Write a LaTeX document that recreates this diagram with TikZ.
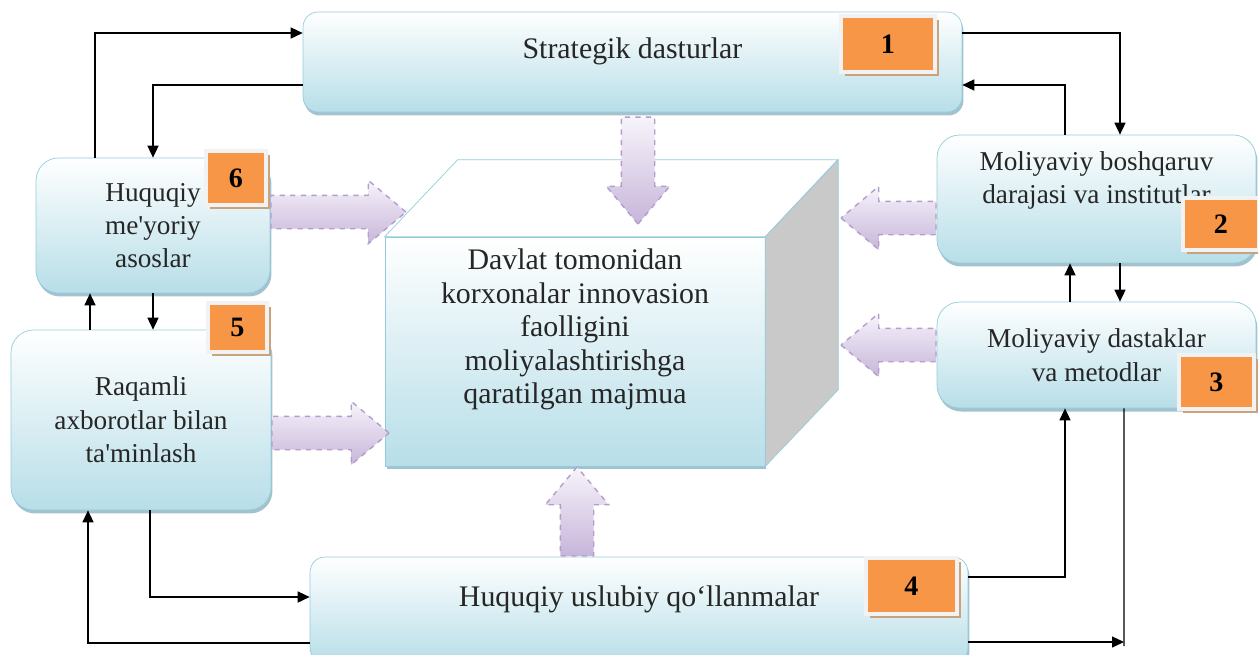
\documentclass[tikz,border=0pt]{standalone}
\usepackage{fontspec}
\setmainfont{Liberation Serif}
\usepackage{xcolor}
\usetikzlibrary{shapes.arrows,arrows.meta,shadows}

\definecolor{boxblue}{HTML}{B7DEE8}
\definecolor{boxedge}{HTML}{93CDDD}
\definecolor{boxshadow}{HTML}{8DB3C0}
\definecolor{badgeorange}{HTML}{F79646}
\definecolor{badgeframe}{HTML}{F2F2F2}
\definecolor{badgeshadow}{HTML}{C9A27E}
\definecolor{flowtop}{HTML}{F7F4FA}
\definecolor{flowbottom}{HTML}{C7B5DA}
\definecolor{flowedge}{HTML}{B39DCC}
\definecolor{cubegray}{HTML}{C9C9C9}

\begin{document}
\begin{tikzpicture}[
    x=0.02cm, y=-0.02cm,
    box/.style={rectangle, draw=boxedge, rounded corners=0.45cm, top color=white, bottom color=boxblue, align=center, text=black!85, font=\fontsize{15.5}{19}\selectfont, drop shadow={shadow xshift=0.03cm, shadow yshift=-0.07cm, fill=boxshadow, opacity=0.8}},
    wide/.style={box, rounded corners=0.3cm, font=\fontsize{17}{19}\selectfont},
    badge/.style={rectangle, fill=badgeorange, draw=badgeframe, line width=2.5pt, font=\fontsize{16}{19}\selectfont\bfseries, drop shadow={shadow xshift=0.08cm, shadow yshift=-0.08cm, fill=badgeshadow, opacity=1}},
    flow/.style={single arrow, draw=flowedge, dashed, thick, top color=flowtop, bottom color=flowbottom, inner sep=0.32cm, single arrow head extend=0.3cm, single arrow tip angle=80, anchor=tail},
    face/.style={draw=boxedge},
    arrow/.style={->, >={Triangle[length=0.24cm, width=0.22cm]}, thick},
    line/.style={thick}
]
\useasboundingbox (0,0) rectangle (1258,654);
\clip (0,0) rectangle (1258,654);

    \node[box, rounded corners=0pt, minimum width=7.6cm, minimum height=4.58cm, font=\fontsize{17}{19}\selectfont] (core) at (575,351.5) {Davlat tomonidan\\korxonalar innovasion\\faolligini\\moliyalashtirishga\\qaratilgan majmua\\[4pt]\strut};
    \filldraw[face, fill=white] (core.north west) -- ++(73,-77) -- ++(380,0) -- (core.north east) -- cycle;
    \filldraw[face, fill=cubegray] (core.north east) -- ++(73,-77) -- ++(0,230) -- (core.south east) -- cycle;

    \node[wide, minimum width=13.18cm, minimum height=2cm] (strat) at (632.5,62) {Strategik dasturlar\\[-9pt]\strut};
    \node[box, minimum width=4.68cm, minimum height=2.7cm] (norm) at (153,225.5) {Huquqiy\\me\textquotesingle yoriy\\asoslar};
    \node[box, minimum width=5.2cm, minimum height=3.6cm] (digit) at (141,420) {Raqamli\\axborotlar bilan\\ta\textquotesingle minlash};
    \node[box, minimum width=6.38cm, minimum height=2.56cm] (mgmt) at (1096.5,199) {Moliyaviy boshqaruv\\darajasi va institutlar\\\strut};
    \node[box, minimum width=6.38cm, minimum height=2.12cm] (tools) at (1096.5,355) {Moliyaviy dastaklar\\va metodlar};
    \node[wide, minimum width=13.16cm, minimum height=2.12cm] (manual) at (639,610) {Huquqiy uslubiy qo‘llanmalar\\[-9pt]\strut};

    \node[flow, minimum height=2.7cm] (f6) at ([yshift=0.27cm]norm.east) {};
    \node[flow, minimum height=2.34cm] (f5) at ([yshift=-0.26cm]digit.east) {};
    \node[flow, minimum height=2.14cm, shape border rotate=270] (f1) at ([xshift=0.11cm, yshift=-0.08cm]strat.south) {};
    \node[flow, minimum height=1.78cm, shape border rotate=90] (f4) at ([xshift=-1.24cm]manual.north) {};
    \node[flow, minimum height=1.9cm, shape border rotate=180] (f2) at ([yshift=-0.38cm]mgmt.west) {};
    \node[flow, minimum height=1.9cm, shape border rotate=180] (f3) at ([yshift=0.2cm]tools.west) {};

    \node[badge, minimum width=1.89cm, minimum height=1.13cm] (n1) at (888,44) {1};
    \node[badge, minimum width=1.53cm, minimum height=1.05cm] (n2) at (1221,224) {2};
    \node[badge, minimum width=1.51cm, minimum height=1.09cm] (n3) at (1216.5,382) {3};
    \node[badge, minimum width=1.83cm, minimum height=1.13cm] (n4) at (911.5,586) {4};
    \node[badge, minimum width=1.19cm, minimum height=0.99cm] (n5) at (237.5,327.5) {5};
    \node[badge, minimum width=1.21cm, minimum height=1.09cm] (n6) at (236,178) {6};

    \draw[arrow] ([xshift=-1.16cm]norm.north) |- ([yshift=0.58cm]strat.west);
    \draw[arrow] ([yshift=-0.46cm]strat.west) -| (norm.north);
    \draw[arrow] ([yshift=0.58cm]strat.east) -| ([xshift=0.47cm]mgmt.north);
    \draw[arrow] ([xshift=-0.63cm]mgmt.north) |- ([yshift=-0.46cm]strat.east);
    \draw[arrow] ([xshift=0.47cm]mgmt.south) -- ([xshift=0.47cm]tools.north);
    \draw[arrow] ([xshift=-0.53cm]tools.north) -- ([xshift=-0.53cm]mgmt.south);
    \draw[arrow] (norm.south) -- (norm.south |- digit.north);
    \draw[arrow] ([xshift=-1.02cm]digit.north) -- ([xshift=-1.02cm]digit.north |- norm.south);
    \draw[arrow] ([xshift=0.18cm]digit.south) |- ([yshift=0.26cm]manual.west);
    \draw[arrow] ([yshift=-0.66cm]manual.west) -| ([xshift=-1.06cm]digit.south);
    \draw[arrow] ([yshift=0.66cm]manual.east) -| ([xshift=-0.63cm]tools.south);
    \coordinate (turn) at (1124,642);
    \draw[line] ([xshift=0.55cm]tools.south) -- ([yshift=-0.08cm]turn);
    \draw[arrow] (manual.east |- turn) -- (turn);
\end{tikzpicture}
\end{document}
